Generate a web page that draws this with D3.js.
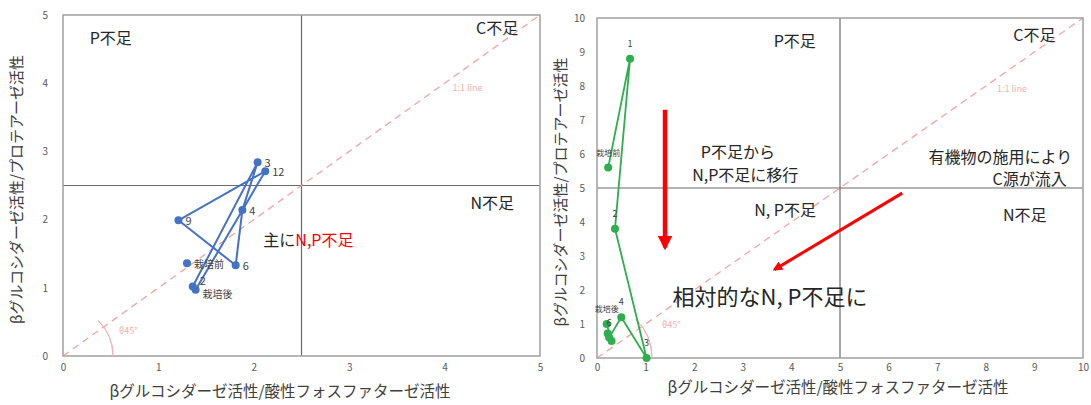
<!DOCTYPE html>
<html><head><meta charset="utf-8">
<script src="https://cdn.jsdelivr.net/npm/d3@7"></script>
<style>
body{margin:0;background:#fff;}
svg text{font-family:"Noto Sans CJK JP","Noto Sans",sans-serif;}
</style></head>
<body><svg id="c" width="1091" height="405"></svg>
<script>
// ---- data: left panel ----
const leftLabels = ["栽培前","2","3","4","6","9","12","栽培後"];
const leftX = [1.30,1.36,2.04,1.88,1.81,1.21,2.12,1.39];
const leftY = [1.36,1.02,2.84,2.14,1.33,1.99,2.71,0.97];
const leftPath = ["2","3","4","6","9","12","栽培後"];
const leftHidden = [];
const leftTicks = [0,1,2,3,4,5];
// ---- data: right panel ----
const rightLabels = ["栽培前","1","2","3","4","6","9","12","栽培後"];
const rightX = [0.23,0.68,0.37,1.02,0.50,0.25,0.22,0.30,0.20];
const rightY = [5.6,8.8,3.8,0.0,1.2,0.6,0.72,0.5,1.0];
const rightPath = ["栽培前","1","2","3","4","6","9","12","栽培後"];
const rightHidden = ["9","12"];
const rightTicks = [0,1,2,3,4,5,6,7,8,9,10];

const xTitle = "βグルコシダーゼ活性/酸性フォスファターゼ活性";
const yTitle = "βグルコシダーゼ活性/プロテアーゼ活性";

const svg = d3.select("#c");

function panel(o){
  const x = d3.scaleLinear().domain([0,o.max]).range(o.xr);
  const y = d3.scaleLinear().domain([0,o.max]).range(o.yr);
  const g = svg.append("g");
  g.append("line").attr("x1",x(o.max/2)).attr("x2",x(o.max/2)).attr("y1",y(0)).attr("y2",y(o.max))
    .attr("stroke","#6b6b6b").attr("stroke-width",1.2);
  g.append("line").attr("x1",x(0)).attr("x2",x(o.max)).attr("y1",y(o.max/2)).attr("y2",y(o.max/2))
    .attr("stroke","#6b6b6b").attr("stroke-width",1.2);
  g.append("line").attr("x1",x(0)).attr("y1",y(0)).attr("x2",x(o.max)).attr("y2",y(o.max))
    .attr("stroke","#f4a3a3").attr("stroke-width",1.3).attr("stroke-dasharray","7,5");
  g.append("rect").attr("x",x(0)).attr("y",y(o.max)).attr("width",x(o.max)-x(0)).attr("height",y(0)-y(o.max))
    .attr("fill","none").attr("stroke","#a6a6a6").attr("stroke-width",1.6);
  const r = o.arcR;
  const arc = d3.arc().innerRadius(r).outerRadius(r).startAngle(Math.PI/2).endAngle(Math.PI/4);
  g.append("path").attr("d",arc()).attr("transform",`translate(${x(0)},${y(0)})`)
    .attr("fill","none").attr("stroke","#f4b0b0").attr("stroke-width",1);
  g.append("text").attr("x",x(0)+r+o.arcDx).attr("y",y(0)-o.arcDy).text("θ45°")
    .attr("font-size",9).attr("fill","#f4b0b0");
  g.append("text").attr("x",x(o.lineLbl)).attr("y",y(o.lineLbl)+24).text("1:1 line")
    .attr("font-size",9).attr("fill","#f4b0b0").attr("text-anchor","middle");
  const ax = g.append("g").attr("transform",`translate(0,${y(0)})`)
    .call(d3.axisBottom(x).tickValues(o.ticks).tickSize(0).tickPadding(o.xPad).tickFormat(d3.format("d")));
  const ay = g.append("g").attr("transform",`translate(${x(0)},0)`)
    .call(d3.axisLeft(y).tickValues(o.ticks).tickSize(0).tickPadding(o.yPad).tickFormat(d3.format("d")));
  [ax,ay].forEach(a=>{a.select(".domain").remove();
    a.selectAll("text").attr("font-size",10).attr("fill","#595959").attr("font-family","Liberation Sans, Arial, sans-serif");});
  g.append("text").attr("x",o.xTitleX).attr("y",o.xTitleY).attr("text-anchor","middle")
    .attr("font-size",15.5).attr("fill","#404040").text(xTitle);
  g.append("text").attr("transform",`translate(${o.yTitleX},${(y(0)+y(o.max))/2+4}) rotate(-90)`)
    .attr("text-anchor","middle").attr("font-size",15).attr("fill","#404040").text(yTitle);
  const pts = o.labels.map((l,i)=>({l,x:o.xs[i],y:o.ys[i]}));
  const byLbl = new Map(pts.map(p=>[p.l,p]));
  const line = d3.line().x(d=>x(d.x)).y(d=>y(d.y));
  g.append("path").attr("d",line(o.path.map(l=>byLbl.get(l)))).attr("fill","none")
    .attr("stroke",o.color).attr("stroke-width",o.lw).attr("stroke-linejoin","round");
  g.selectAll(null).data(pts).enter().append("circle")
    .attr("cx",d=>x(d.x)).attr("cy",d=>y(d.y)).attr("r",o.pr).attr("fill",o.color);
  const off = o.labelDy || {};
  g.selectAll(null).data(pts.filter(p=>!o.hidden.includes(p.l))).enter().append("text")
    .attr("x",d=>x(d.x)+o.ldx).attr("y",d=>y(d.y)+(d.l in off ? off[d.l] : o.ldy)).attr("text-anchor",o.lanchor)
    .attr("font-size",d=>d.l.length>2?o.lfs-1:o.lfs).attr("fill","#404040").text(d=>d.l);
  return {g,x,y};
}

const L = panel({max:5,xr:[63,540],yr:[356,15],ticks:leftTicks,labels:leftLabels,xs:leftX,ys:leftY,
  path:leftPath,hidden:leftHidden,color:"#4472c4",lw:2,pr:4,ldx:7,ldy:5,lanchor:"start",lfs:11,arcR:50,
  labelDy:{"2":-1,"栽培後":8},
  arcDx:6,arcDy:22,lineLbl:4.24,xPad:8,yPad:15,xTitleX:280,xTitleY:397,yTitleX:22});
const R = panel({max:10,xr:[597,1083],yr:[358,18],ticks:rightTicks,labels:rightLabels,xs:rightX,ys:rightY,
  path:rightPath,hidden:rightHidden,color:"#2fae4e",lw:1.8,pr:4,ldx:0,ldy:-12,lanchor:"middle",lfs:9,arcR:55,
  arcDx:10,arcDy:30,lineLbl:8.54,xPad:6,yPad:12,xTitleX:838,xTitleY:393,yTitleX:566});

// ---- annotations ----
function txt(P,xv,yv,s,fs,anchor,fill){
  return P.g.append("text").attr("x",P.x(xv)).attr("y",P.y(yv)).attr("dy","0.35em")
    .attr("text-anchor",anchor||"middle").attr("font-size",fs).attr("fill",fill||"#262626").text(s);
}
txt(L,0.5,4.65,"P不足",16);
txt(L,4.55,4.8,"C不足",16);
txt(L,4.5,2.24,"N不足",16);
const t = txt(L,2.1,1.69,"主に",16,"start");
t.append("tspan").attr("fill","#ff0000").text("N,P不足");

txt(R,4.07,9.3,"P不足",16);
txt(R,9.0,9.5,"C不足",16);
txt(R,2.9,6.05,"P不足から",16);
txt(R,3.05,5.37,"N,P不足に移行",16);
txt(R,8.3,5.9,"有機物の施用により",16);
txt(R,8.9,5.25,"C源が流入",16);
txt(R,3.87,4.35,"N, P不足",16);
txt(R,8.8,4.2,"N不足",16);
txt(R,3.56,1.8,"相対的なN, P不足に",22);

const defs = svg.append("defs");
defs.append("marker").attr("id","ah").attr("viewBox","0 0 10 10").attr("refX",8).attr("refY",5)
  .attr("markerWidth",3.2).attr("markerHeight",3.2).attr("orient","auto")
  .append("path").attr("d","M0,0L10,5L0,10z").attr("fill","#ff0000");
const arrows = [[1.4,7.3,1.4,3.25,4.5],[6.28,4.85,3.65,2.6,3]];
arrows.forEach(a=>{
  svg.append("line").attr("x1",R.x(a[0])).attr("y1",R.y(a[1])).attr("x2",R.x(a[2])).attr("y2",R.y(a[3]))
    .attr("stroke","#ff0000").attr("stroke-width",a[4]).attr("marker-end","url(#ah)");
});
</script></body></html>
